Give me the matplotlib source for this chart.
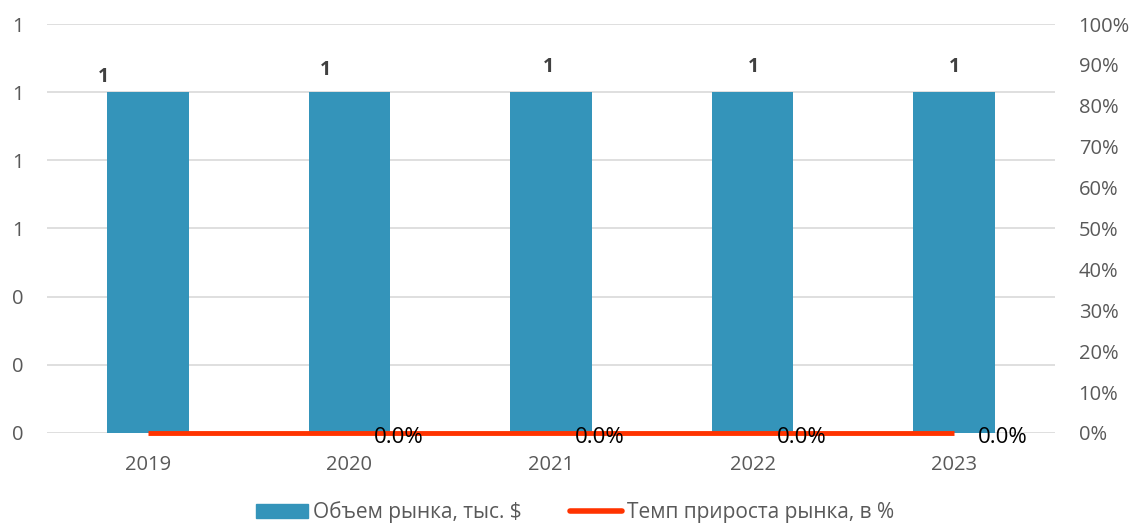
import matplotlib
matplotlib.use("Agg")
from matplotlib import pyplot as plt
from matplotlib.ticker import FormatStrFormatter, PercentFormatter
from matplotlib.patches import Patch
from matplotlib.lines import Line2D

years = ["2019", "2020", "2021", "2022", "2023"]
volume = [1, 1, 1, 1, 1]
growth = [0.0, 0.0, 0.0, 0.0, 0.0]
growth_labels = [None, "0.0%", "0.0%", "0.0%", "0.0%"]

plt.rcParams['font.family'] = ['Open Sans', 'DejaVu Sans']

fig = plt.figure(figsize=(11.32, 5.28), dpi=100)
ax = fig.add_axes([0.0415, 0.180, 0.8905, 0.7745])
x = list(range(len(years)))

ax.bar(x, volume, width=0.405, color="#3494BA", zorder=2)
ax.set_ylim(0, 1.2)
ax.set_yticks([0, 0.2, 0.4, 0.6, 0.8, 1.0, 1.2])
ax.yaxis.set_major_formatter(FormatStrFormatter('%.0f'))
ax.set_xlim(-0.5, 4.5)
ax.set_xticks(x)
ax.set_xticklabels(years)
ax.grid(axis='y', color="#d9d9d9", linewidth=1.2, zorder=0)
ax.set_axisbelow(True)
for s in ax.spines.values():
    s.set_visible(False)
ax.tick_params(axis='both', length=0, labelsize=14.5, labelcolor="#595959")
ax.tick_params(axis='y', pad=17)
ax.tick_params(axis='x', pad=16)

# bar value labels (offsets as in the source chart)
label_dx = [-0.22, -0.12, -0.015, 0.005, 0.0]
label_dy = [0.045, 0.065, 0.075, 0.075, 0.075]
for i, v in enumerate(volume):
    ax.text(x[i] + label_dx[i], v + label_dy[i], str(v), ha='center', va='center',
            fontsize=14, fontweight='bold', color="#404040")

ax2 = ax.twinx()
ax2.plot(x, growth, color="#FF3300", linewidth=3.5, solid_capstyle='butt',
         clip_on=False, zorder=3)
ax2.set_ylim(0, 1.0)
ax2.set_yticks([i / 10 for i in range(11)])
ax2.yaxis.set_major_formatter(PercentFormatter(1.0, decimals=0))
for s in ax2.spines.values():
    s.set_visible(False)
ax2.tick_params(axis='y', length=0, labelsize=14.5, labelcolor="#595959", pad=17)

for i, lab in enumerate(growth_labels):
    if lab:
        ax2.text(x[i] + 0.243, growth[i] - 0.01, lab, ha='center', va='center',
                 fontsize=16, color="black", zorder=4)

handles = [Patch(color="#3494BA", label="Объем рынка, тыс. $"),
           Line2D([0], [0], color="#FF3300", lw=4, solid_capstyle='round',
                  label="Темп прироста рынка, в %")]
fig.legend(handles=handles, loc='center', bbox_to_anchor=(0.508, 0.03), ncol=2,
           frameon=False, fontsize=15,
           handlelength=2.5, handleheight=0.62, handletextpad=0.25,
           columnspacing=2.3, labelcolor="#595959")

fig.savefig("out.png", dpi=100)
